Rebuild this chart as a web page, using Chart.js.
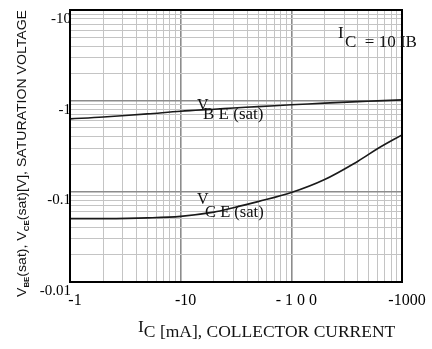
<!DOCTYPE html>
<html><head><meta charset="utf-8">
<script src="https://cdn.jsdelivr.net/npm/chart.js@4/dist/chart.umd.min.js"></script>
<style>html,body{margin:0;padding:0;background:#fff}#wrap{width:432px;height:349px;position:relative}</style>
</head><body><div id="wrap"><canvas id="c"></canvas></div>
<script>
// ---- data ----
const currents = [1, 2, 5, 10, 20, 30, 50, 100, 200, 400, 600, 1000];          // IC [mA]
const vbeSat   = [0.63, 0.66, 0.715, 0.765, 0.805, 0.83, 0.86, 0.90, 0.94, 0.975, 0.995, 1.02];
const vceSat   = [0.050, 0.050, 0.051, 0.053, 0.059, 0.066, 0.077, 0.097, 0.135, 0.215, 0.295, 0.42];
const xTickValues = [1, 10, 100, 1000];
const xTickLabels = ['-1', '-10', '- 1 0 0', '-1000'];
const yTickValues = [0.01, 0.1, 1, 10];
const yTickLabels = ['-0.01', '-0.1', '-1', '-10'];

const SERIF = "'Liberation Serif', 'Times New Roman', serif";
const SANS = "'Liberation Sans', Arial, sans-serif";

function logGrid(min, max) {
  const out = [];
  for (let d = min; d < max * 1.0001; d *= 10) {
    for (let m = 1; m <= 9; m++) {
      const v = +(d * m).toPrecision(6);
      if (v <= max * 1.0001) out.push(v);
    }
  }
  return out;
}
function isDecade(v) { const l = Math.log10(v); return Math.abs(l - Math.round(l)) < 1e-6; }
function labelFor(vals, labs, v) {
  const i = vals.findIndex(t => Math.abs(t - v) / t < 1e-6);
  return i >= 0 ? labs[i] : '';
}
function drawRich(ctx, x, y, parts) {
  let cx = x;
  for (const [t, f, dy] of parts) {
    ctx.font = f; ctx.fillText(t, cx, y + dy); cx += ctx.measureText(t).width;
  }
  return cx - x;
}
function richWidth(ctx, parts) {
  let w = 0; for (const [t, f] of parts) { ctx.font = f; w += ctx.measureText(t).width; } return w;
}

const annotate = {
  id: 'annotate',
  beforeDraw(chart) {
    const c = chart.ctx; c.save(); c.fillStyle = '#fff'; c.fillRect(0, 0, chart.width, chart.height); c.restore();
  },
  afterDraw(chart) {
    const ctx = chart.ctx, a = chart.chartArea;
    ctx.save();
    // plot frame
    ctx.strokeStyle = '#000'; ctx.lineWidth = 2;
    ctx.strokeRect(a.left, a.top, a.right - a.left, a.bottom - a.top);
    ctx.fillStyle = '#111'; ctx.textBaseline = 'alphabetic'; ctx.textAlign = 'left';
    // curve labels
    drawRich(ctx, a.left + 127, a.top + 100, [['V', '16px ' + SERIF, 0]]);
    drawRich(ctx, a.left + 133, a.top + 109, [['B E (sat)', '17px ' + SERIF, 0]]);
    drawRich(ctx, a.left + 127, a.top + 194, [['V', '16px ' + SERIF, 0]]);
    drawRich(ctx, a.left + 135, a.top + 207, [['C E (sat)', '16.5px ' + SERIF, 0]]);
    // condition
    drawRich(ctx, a.left + 268, a.top + 28, [['I', '17px ' + SERIF, 0]]);
    drawRich(ctx, a.left + 275, a.top + 37, [['C  = 10 IB', '17px ' + SERIF, 0]]);
    // x title
    const xt = [['I', '17.5px ' + SERIF, -5], ['C [mA], COLLECTOR CURRENT', '17.5px ' + SERIF, 0]];
    drawRich(ctx, 138, a.bottom + 55, xt);
    // y title (rotated), stretched to the reference's length
    const yt = [['V', '12.5px ' + SANS, 0], ['BE', 'bold 7px ' + SANS, 3], ['(sat), V', '12.5px ' + SANS, 0],
                ['CE', 'bold 7px ' + SANS, 3], ['(sat)[V], SATURATION VOLTAGE', '12.5px ' + SANS, 0]];
    const w = richWidth(ctx, yt);
    const target = 287, k = target / w;
    ctx.translate(26, 153.5 + target / 2);
    ctx.rotate(-Math.PI / 2);
    ctx.scale(k, 1);
    drawRich(ctx, 0, 0, yt);
    ctx.restore();
  }
};

const gridOpts = {
  color: c => (c.tick && isDecade(c.tick.value)) ? '#8c8c8c' : '#c4c4c4',
  lineWidth: c => (c.tick && isDecade(c.tick.value)) ? 1.6 : 1,
  drawTicks: false
};

new Chart(document.getElementById('c'), {
  type: 'line',
  data: {
    datasets: [
      { label: 'VBE(sat)', data: currents.map((x, i) => ({ x, y: vbeSat[i] })),
        borderColor: '#1a1a1a', borderWidth: 1.6, pointRadius: 0, tension: 0.35 },
      { label: 'VCE(sat)', data: currents.map((x, i) => ({ x, y: vceSat[i] })),
        borderColor: '#1a1a1a', borderWidth: 1.6, pointRadius: 0, tension: 0.35 }
    ]
  },
  options: {
    responsive: true, maintainAspectRatio: false, animation: false,
    layout: { padding: { top: 10, right: 30, left: 0, bottom: 0 } },
    plugins: { legend: { display: false }, tooltip: { enabled: false } },
    scales: {
      x: {
        type: 'logarithmic', min: 1, max: 1000,
        afterBuildTicks: s => { s.ticks = logGrid(1, 1000).map(v => ({ value: v })); },
        afterFit: s => { s.height = 67; },
        grid: gridOpts,
        border: { display: false },
        ticks: { autoSkip: false, maxRotation: 0, padding: 9, labelOffset: 5, color: '#000',
                 font: { family: SERIF, size: 16 },
                 callback: v => labelFor(xTickValues, xTickLabels, v) }
      },
      y: {
        type: 'logarithmic', min: 0.01, max: 10,
        afterBuildTicks: s => { s.ticks = logGrid(0.01, 10).map(v => ({ value: v })); },
        afterFit: s => { s.width = 70; },
        grid: gridOpts,
        border: { display: false },
        ticks: { autoSkip: false, padding: -1, labelOffset: 9, color: '#000',
                 font: { family: SERIF, size: 15 },
                 callback: v => labelFor(yTickValues, yTickLabels, v) }
      }
    }
  },
  plugins: [annotate]
});
</script>
</body></html>
